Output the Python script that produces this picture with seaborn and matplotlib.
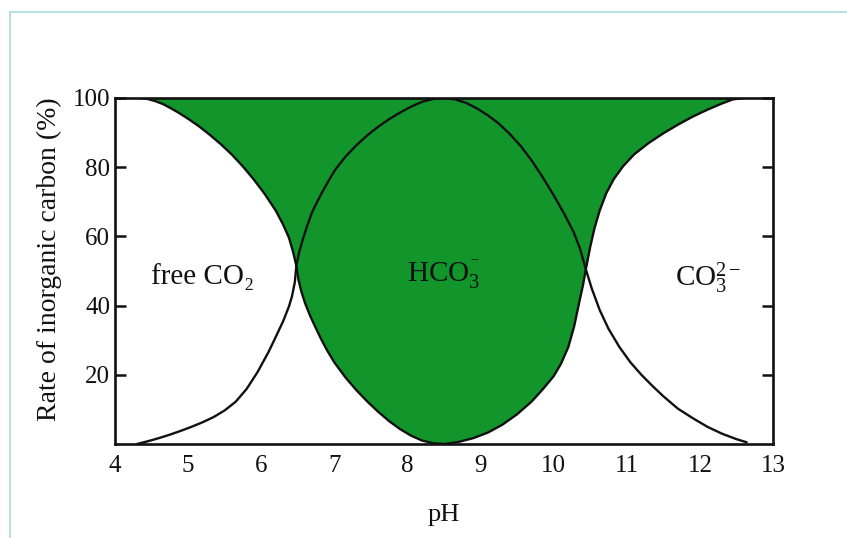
import matplotlib
matplotlib.use("Agg")
import matplotlib.pyplot as plt
import seaborn as sns
import pandas as pd
from matplotlib.lines import Line2D

# ---- data ----
# free CO2 (falls from 100 % to 0 %)
co2_ph = [4.35, 4.45, 4.55, 4.65, 4.75, 4.85, 5.0, 5.15, 5.3, 5.45, 5.6, 5.75, 5.9, 6.05, 6.2, 6.3, 6.38, 6.44, 6.48,
          6.51, 6.55, 6.6, 6.67, 6.74, 6.82, 6.9, 7.0, 7.15, 7.3, 7.45, 7.6, 7.75, 7.9, 8.05, 8.2, 8.35, 8.5]
co2_pct = [100, 99.7, 99.1, 98.3, 97.2, 96.0, 94.0, 91.8, 89.3, 86.6, 83.6, 80.2, 76.4, 72.2, 67.4, 63.4, 59.6, 55.2, 51.5,
           47.4, 44.0, 40.7, 37.0, 33.8, 30.3, 27.1, 23.6, 19.3, 15.6, 12.3, 9.3, 6.6, 4.3, 2.4, 1.0, 0.25, 0]

# HCO3- (rises to 100 % then falls)
hco3_ph = [4.3, 4.45, 4.6, 4.75, 4.9, 5.05, 5.2, 5.35, 5.5, 5.65, 5.8, 5.95, 6.1, 6.2, 6.3, 6.38, 6.42, 6.46, 6.48,
           6.52, 6.56, 6.62, 6.69, 6.77, 6.85, 6.93, 7.01, 7.15, 7.3, 7.45, 7.6, 7.75, 7.9, 8.05, 8.2, 8.35, 8.5,
           8.65, 8.8, 8.95, 9.1, 9.25, 9.4, 9.55, 9.7, 9.85, 10.0, 10.15, 10.27, 10.36, 10.44,
           10.52, 10.63, 10.75, 10.9, 11.05, 11.2, 11.35, 11.5, 11.7, 11.9, 12.1, 12.3, 12.5, 12.64]
hco3_pct = [0, 0.8, 1.7, 2.7, 3.8, 5.0, 6.3, 7.8, 9.7, 12.2, 15.9, 20.8, 26.6, 31.0, 35.5, 39.8, 42.6, 46.8, 51.5,
            55.5, 58.5, 62.5, 66.7, 70.2, 73.4, 76.4, 79.2, 83.0, 86.3, 89.2, 91.7, 93.9, 95.8, 97.5, 98.9, 99.7, 100,
            99.6, 98.6, 97.0, 95.0, 92.6, 89.6, 86.1, 81.9, 77.1, 71.9, 66.3, 61.4, 56.5, 50.5,
            45.0, 38.7, 33.3, 28.0, 23.6, 20.0, 16.8, 13.8, 10.2, 7.5, 5.0, 3.0, 1.4, 0.5]

# CO3 2- (rises from 0 % to 100 %)
co3_ph = [8.5, 8.7, 8.9, 9.1, 9.3, 9.5, 9.7, 9.85, 10.0, 10.1, 10.2, 10.28, 10.35, 10.4, 10.44,
          10.5, 10.56, 10.63, 10.72, 10.82, 10.95, 11.1, 11.3, 11.5, 11.7, 11.9, 12.1, 12.3, 12.45, 12.6]
co3_pct = [0, 0.6, 1.7, 3.3, 5.6, 8.6, 12.3, 15.8, 19.6, 23.2, 28.0, 34.0, 41.0, 45.8, 50.5,
           57.0, 62.5, 67.5, 72.5, 76.5, 80.3, 83.7, 87.0, 89.8, 92.3, 94.6, 96.6, 98.4, 99.6, 100]

x_ticks = [4, 5, 6, 7, 8, 9, 10, 11, 12, 13]
y_ticks = [20, 40, 60, 80, 100]

labels = ["free CO\u2082", r"HCO$_3^{^-}$", r"CO$_3^{2-}$"]
label_pos_ph = [5.2, 8.5, 12.11]
label_pos_pct = [48.5, 49.0, 47.8]

green = "#12962b"

sns.set_style("white")
plt.rcParams["font.family"] = ["Liberation Serif", "DejaVu Serif"]
plt.rcParams["mathtext.fontset"] = "custom"
plt.rcParams["mathtext.rm"] = "Liberation Serif"
plt.rcParams["mathtext.it"] = "Liberation Serif:italic"

fig = plt.figure(figsize=(8.47, 5.38), dpi=100)
ax = fig.add_axes([115/847, 1-444/538, (773-115)/847, (444-98)/538])

# green region: above free CO2 (left) and above CO3 (right)
fill_x = co2_ph + co3_ph
fill_y = co2_pct + co3_pct
ax.fill_between(fill_x, fill_y, 100, color=green, linewidth=0, zorder=1)

df = pd.concat([
    pd.DataFrame({"pH": co2_ph, "pct": co2_pct, "s": "co2"}),
    pd.DataFrame({"pH": hco3_ph, "pct": hco3_pct, "s": "hco3"}),
    pd.DataFrame({"pH": co3_ph, "pct": co3_pct, "s": "co3"}),
])
sns.lineplot(data=df, x="pH", y="pct", units="s", estimator=None, sort=False,
             color="#111111", linewidth=1.7, ax=ax, zorder=3)

ax.set_xlim(4, 13)
ax.set_ylim(0, 100)
ax.set_xticks(x_ticks)
ax.set_yticks(y_ticks)
ax.tick_params(axis="y", direction="in", length=8, width=1.8, right=True, left=True,
               labelsize=18, pad=3.5, colors="#111111")
ax.tick_params(axis="x", direction="in", length=3, width=1.2, labelsize=18, pad=8, colors="#111111")
for sp in ax.spines.values():
    sp.set_linewidth(1.9)
    sp.set_color("#111111")
    sp.set_visible(True)

ax.set_xlabel("pH", fontsize=19, color="#111111", va="top")
ax.xaxis.set_label_coords(0.5, -0.172)
ax.set_ylabel("Rate of inorganic carbon (%)", fontsize=20, color="#111111")
ax.yaxis.set_label_coords(-0.081, 0.535)

for t, px, py in zip(labels, label_pos_ph, label_pos_pct):
    ax.text(px, py, t, fontsize=21, ha="center", va="center", color="#111111", zorder=4)

# light frame lines at top and left of the figure
fig.add_artist(Line2D([10/847, 1], [1-12/538, 1-12/538], transform=fig.transFigure,
                      color="#a9dcd8", linewidth=1.2))
fig.add_artist(Line2D([10/847, 10/847], [1-12/538, 0], transform=fig.transFigure,
                      color="#a9dcd8", linewidth=1.2))

fig.savefig("out.png", dpi=100)
